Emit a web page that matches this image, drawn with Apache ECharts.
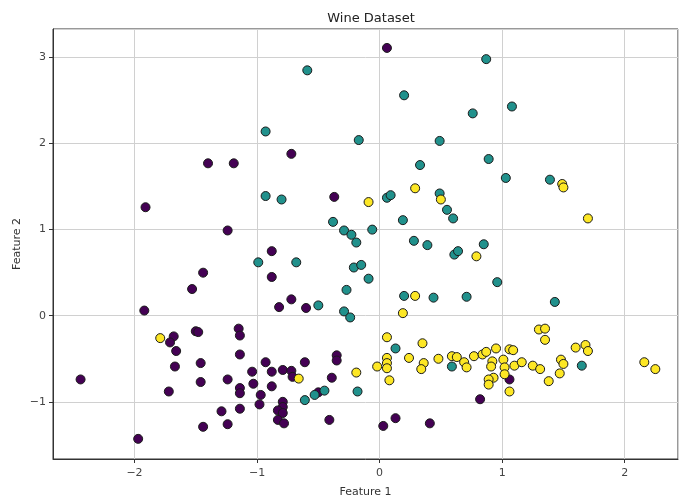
<!DOCTYPE html>
<html lang="en">
<head>
    <meta charset="UTF-8">
    <title>Wine Dataset</title>
    <script src="https://cdn.jsdelivr.net/npm/echarts@6/dist/echarts.min.js"></script>
    <style>
        html, body { margin: 0; padding: 0; background: #fff; }
        #chart { width: 679px; height: 501px; }
    </style>
</head>
<body>
<div id="chart"></div>
<script>
    // class 0 (purple)
    var class0 = [
        [-1.40, 1.77], [-1.19, 1.77], [-0.72, 1.88], [-1.91, 1.26], [-0.37, 1.38], [-1.24, 0.99],
        [-0.88, 0.75], [0.06, 3.11], [-1.44, 0.50], [-1.53, 0.31], [-1.92, 0.06], [-1.68, -0.24],
        [-1.71, -0.31], [-1.66, -0.41], [-1.50, -0.18], [-1.48, -0.19], [-1.67, -0.59], [-1.46, -0.55],
        [-1.46, -0.77], [-2.44, -0.74], [-1.72, -0.88], [-1.44, -1.29], [-1.97, -1.43], [-0.88, 0.45],
        [-0.72, 0.19], [-0.82, 0.10], [-0.60, 0.09], [-1.15, -0.15], [-1.14, -0.23], [-1.14, -0.45],
        [-1.24, -0.74], [-1.04, -0.65], [-0.93, -0.54], [-0.88, -0.65], [-1.03, -0.79], [-1.14, -0.84],
        [-1.14, -0.90], [-0.88, -0.82], [-0.97, -0.92], [-0.98, -1.03], [-1.14, -1.08], [-1.29, -1.11],
        [-1.24, -1.26], [-0.79, -0.63], [-0.72, -0.64], [-0.71, -0.71], [-0.61, -0.54], [-0.79, -1.00],
        [-0.79, -1.06], [-0.83, -1.10], [-0.79, -1.13], [-0.83, -1.21], [-0.78, -1.25], [-0.50, -0.89],
        [-0.41, -1.21], [-0.39, -0.72], [-0.35, -0.46], [-0.35, -0.52], [1.06, -0.74], [0.82, -0.97],
        [0.03, -1.28], [0.13, -1.19], [0.41, -1.25]
    ];
    // class 1 (teal)
    var class1 = [
        [-0.99, 0.62], [-0.68, 0.62], [-0.50, 0.12], [-0.29, 0.05], [-0.24, -0.02], [-0.21, 0.56],
        [-0.15, 0.59], [-0.09, 0.43], [-0.27, 0.30], [-0.19, 0.85], [-0.61, -0.98], [-0.53, -0.92],
        [-0.45, -0.87], [-0.18, -0.88], [0.28, 0.87], [0.39, 0.82], [0.61, 0.71], [0.64, 0.75],
        [0.85, 0.83], [0.96, 0.39], [0.20, 0.23], [0.44, 0.21], [0.71, 0.22], [0.13, -0.38],
        [0.59, -0.59], [1.43, 0.16], [1.65, -0.58], [-0.59, 2.85], [-0.93, 2.14], [-0.17, 2.04],
        [-0.93, 1.39], [-0.80, 1.35], [-0.38, 1.09], [-0.29, 0.99], [-0.23, 0.94], [-0.06, 1.00],
        [0.87, 2.98], [0.20, 2.56], [0.76, 2.35], [1.08, 2.43], [0.49, 2.03], [0.33, 1.75],
        [0.89, 1.82], [1.03, 1.60], [0.06, 1.37], [0.09, 1.40], [0.49, 1.42], [0.55, 1.23],
        [0.60, 1.13], [0.19, 1.11], [1.39, 1.58]
    ];
    // class 2 (yellow)
    var class2 = [
        [-1.79, -0.26], [-0.66, -0.73], [-0.19, -0.66], [-0.09, 1.32], [0.79, 0.69], [0.29, 0.23],
        [0.19, 0.03], [0.06, -0.25], [0.35, -0.32], [0.06, -0.49], [0.06, -0.55], [0.06, -0.61],
        [-0.02, -0.59], [0.08, -0.75], [0.24, -0.49], [0.36, -0.55], [0.34, -0.62], [0.48, -0.50],
        [0.59, -0.47], [0.63, -0.48], [0.69, -0.54], [0.71, -0.60], [0.77, -0.47], [0.84, -0.45],
        [0.87, -0.42], [0.95, -0.38], [0.92, -0.53], [0.91, -0.59], [0.93, -0.72], [0.89, -0.74],
        [0.89, -0.80], [1.01, -0.51], [1.02, -0.60], [1.02, -0.68], [1.06, -0.39], [1.09, -0.40],
        [1.06, -0.88], [1.10, -0.58], [1.16, -0.54], [1.25, -0.58], [1.30, -0.16], [1.35, -0.15],
        [1.35, -0.28], [1.60, -0.37], [1.68, -0.34], [1.70, -0.41], [1.31, -0.62], [1.48, -0.51],
        [1.50, -0.56], [1.47, -0.67], [1.38, -0.76], [2.16, -0.54], [2.25, -0.62], [0.29, 1.48],
        [0.50, 1.35], [1.49, 1.53], [1.50, 1.49], [1.70, 1.13]
    ];
    var classColors = ['#440154', '#21918c', '#fde725'];
    var xRange = [-2.665, 2.435];
    var yRange = [-1.664, 3.33];

    var chart = echarts.init(document.getElementById('chart'));
    var font = 'DejaVu Sans';

    function minus(v) {
        return String(v).replace('-', '\u2212');
    }

    function axis(range, name, gap, labelMargin) {
        return {
            type: 'value',
            min: range[0],
            max: range[1],
            splitNumber: 5,
            name: name,
            nameLocation: 'middle',
            nameGap: gap,
            nameMoveOverlap: false,
            nameTextStyle: { fontFamily: font, fontSize: 11, color: '#333' },
            axisLine: { show: true, onZero: false, lineStyle: { color: '#333', width: 1 } },
            axisTick: { show: true, length: 4, lineStyle: { color: '#333' } },
            axisLabel: {
                fontFamily: font, fontSize: 11, color: '#444', margin: labelMargin,
                showMinLabel: false, showMaxLabel: false,
                formatter: minus
            },
            splitLine: { show: true, lineStyle: { color: '#d0d0d0', width: 1 } }
        };
    }

    function scatter(data, color) {
        return {
            type: 'scatter',
            data: data,
            symbolSize: 9,
            itemStyle: { color: color, borderColor: '#1a1a1a', borderWidth: 1, opacity: 1 }
        };
    }

    var option = {
        animation: false,
        title: {
            text: 'Wine Dataset',
            left: 366, top: 7, textAlign: 'center',
            textStyle: { fontFamily: font, fontSize: 13, fontWeight: 'normal', color: '#222' }
        },
        grid: {
            left: 53, right: 1, top: 29, bottom: 42,
            outerBoundsMode: 'none',
            show: true, borderColor: '#333', borderWidth: 1
        },
        xAxis: axis(xRange, 'Feature 1', 28, 9),
        yAxis: axis(yRange, 'Feature 2', 30, 7),
        series: [
            scatter(class0, classColors[0]),
            scatter(class1, classColors[1]),
            scatter(class2, classColors[2])
        ]
    };
    chart.setOption(option);
</script>
</body>
</html>
